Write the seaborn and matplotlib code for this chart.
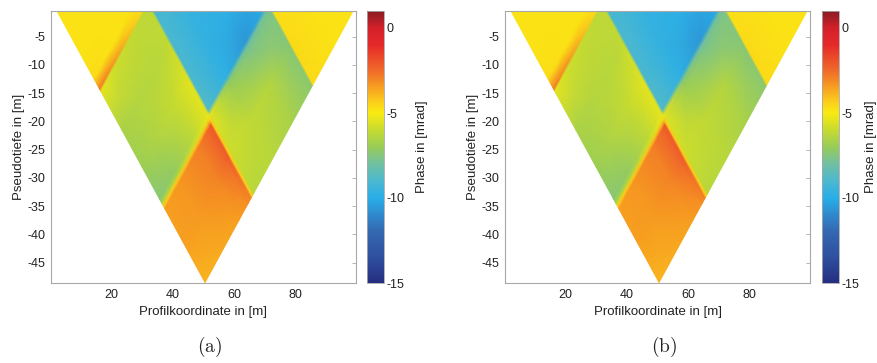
import numpy as np
import matplotlib
matplotlib.use("Agg")
import matplotlib.pyplot as plt
from matplotlib.colors import LinearSegmentedColormap
import seaborn as sns

# ---------------- data ----------------
# Pseudosection: each datum belongs to an electrode pair (a = left end, b = right end);
# plotted at x = (a+b)/2, pseudo-depth = (b-a)/2.
a_nodes = [2, 12, 24, 30, 31.8, 32.6, 33.6, 45, 58, 71.4, 72.2, 85, 99]
b_nodes = [2, 20, 27, 30.6, 31.4, 45, 58, 69.6, 71.0, 72.0, 73.0, 85, 99]

# phase in mrad, rows = b_nodes, columns = a_nodes
phase_a = [
    [-4.8, -4.8, -4.8, -4.8, -4.8, -4.8, -4.8, -4.8, -4.8, -4.8, -4.8, -4.8, -4.8],
    [-4.8, -4.8, -4.8, -4.8, -4.8, -4.8, -4.8, -4.8, -4.8, -4.8, -4.8, -4.8, -4.8],
    [-4.6, -4.8, -4.8, -4.8, -4.8, -4.8, -4.8, -4.8, -4.8, -4.8, -4.8, -4.8, -4.8],
    [-2.8, -3.3, -4.2, -4.7, -4.8, -4.8, -4.8, -4.8, -4.8, -4.8, -4.8, -4.8, -4.8],
    [-5.4, -5.9, -6.1, -6.2, -6.2, -6.2, -9.2, -9.2, -9.8, -10.0, -4.8, -4.8, -4.8],
    [-6.6, -6.4, -6.3, -6.2, -6.1, -6.0, -9.0, -9.6, -9.8, -10.0, -4.8, -4.8, -4.8],
    [-6.9, -6.5, -6.0, -5.6, -5.5, -5.4, -9.0, -9.7, -9.9, -10.2, -4.8, -4.8, -4.8],
    [-7.4, -7.1, -6.2, -5.6, -5.5, -5.4, -8.8, -9.8, -10.6, -10.0, -4.8, -4.8, -4.8],
    [-6.5, -6.5, -5.8, -5.4, -5.3, -5.2, -5.4, -7.4, -8.0, -7.8, -4.8, -4.8, -4.8],
    [-4.4, -4.3, -4.2, -4.0, -4.0, -4.4, -5.6, -7.1, -7.8, -7.7, -4.8, -4.8, -4.8],
    [-3.5, -3.3, -2.9, -2.4, -2.1, -4.3, -5.6, -6.9, -7.6, -7.6, -4.7, -4.8, -4.8],
    [-3.5, -3.4, -3.0, -2.5, -2.2, -4.3, -5.9, -6.1, -6.4, -7.4, -4.6, -4.8, -4.8],
    [-3.9, -3.7, -3.5, -3.2, -3.0, -4.4, -6.3, -6.3, -6.6, -7.3, -4.6, -4.8, -4.8],
]
phase_b = phase_a

x_ticks = [20, 40, 60, 80]
y_ticks = [-5, -10, -15, -20, -25, -30, -35, -40, -45]
cbar_ticks = [0, -5, -10, -15]
phase_min, phase_max = -15, 1
captions = ["(a)", "(b)"]
xlabel = "Profilkoordinate in [m]"
ylabel = "Pseudotiefe in [m]"
cbar_label = "Phase in [mrad]"

# colour scale as seen on the reference colour bar (value in mrad -> colour)
cmap_values = [-15, -13.5, -12, -11, -10, -9, -8, -7, -6, -5, -4.5, -3.5, -2.5, -1, 0, 1]
cmap_colors = ["#252e80", "#2f4f9f", "#3468b0", "#3088cc", "#28aee8", "#4cb8d0",
               "#70c0a2", "#98cc58", "#c6db30", "#f8ea12", "#fcd61a", "#f7a020",
               "#f06a2a", "#e62a2a", "#d4202a", "#8a1c22"]

# ---------------- style ----------------
sns.set_theme(style="white")
plt.rcParams["font.family"] = ["Liberation Sans", "DejaVu Sans"]
plt.rcParams["mathtext.fontset"] = "cm"
plt.rcParams["axes.unicode_minus"] = False

cmap = LinearSegmentedColormap.from_list(
    "phase",
    [((v - phase_min) / (phase_max - phase_min), c) for v, c in zip(cmap_values, cmap_colors)],
    N=512)

W, H = 878, 363
fig = plt.figure(figsize=(W / 100, H / 100), dpi=100)

A, B = np.meshgrid(np.array(a_nodes, float), np.array(b_nodes, float))
X = (A + B) / 2.0
Y = -(B - A) / 2.0

panels = [
    dict(ax=(51, 11, 305, 272), cax=(367, 11, 17, 272), data=phase_a, cap_x=210, lpad=8),
    dict(ax=(505, 11, 305, 272), cax=(822, 11, 17, 272), data=phase_b, cap_x=664, lpad=3.5),
]

def frac(box):
    x, y, w, h = box
    return [x / W, 1 - (y + h) / H, w / W, h / H]

edge = "#a8a8a8"
for p, cap in zip(panels, captions):
    ax = fig.add_axes(frac(p["ax"]))
    Z = np.array(p["data"], float)
    m = ax.pcolormesh(X, Y, Z, shading="gouraud", cmap=cmap,
                      vmin=phase_min, vmax=phase_max)
    ax.set_xlim(0.5, 99.5)
    ax.set_ylim(-48.6, -0.45)
    ax.set_xticks(x_ticks)
    ax.set_yticks(y_ticks)
    ax.tick_params(direction="in", top=True, right=True, length=3, width=0.6,
                   color=edge, labelsize=9, labelcolor="#222222", pad=4)
    for s in ax.spines.values():
        s.set_color(edge)
        s.set_linewidth(0.8)
    ax.set_xlabel(xlabel, fontsize=9.5, color="#222222", labelpad=4)
    ax.set_ylabel(ylabel, fontsize=9.5, color="#222222", labelpad=2)

    cax = fig.add_axes(frac(p["cax"]))
    cb = fig.colorbar(m, cax=cax)
    cb.set_ticks(cbar_ticks)
    cb.ax.tick_params(direction="in", length=2, width=0.5, color=edge,
                      labelsize=9, labelcolor="#222222", pad=2)
    cb.outline.set_edgecolor(edge)
    cb.outline.set_linewidth(0.6)
    cb.set_label(cbar_label, fontsize=9.5, color="#222222", labelpad=p["lpad"])

    fig.text(p["cap_x"] / W, 1 - 347 / H, r"$\mathrm{" + cap + "}$",
             ha="center", va="center", fontsize=14, color="#222222")

fig.savefig("out.png", dpi=100)
